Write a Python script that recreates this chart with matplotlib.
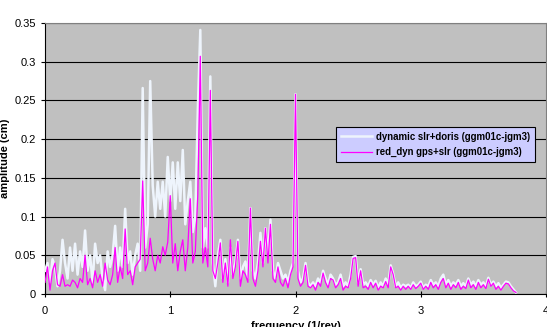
import numpy as np
import matplotlib
matplotlib.use('Agg')
import matplotlib.pyplot as plt

plt.rcParams['font.family'] = ['Liberation Sans', 'DejaVu Sans']

# amplitude spectra (cm), sampled every 0.02 cycles/rev from 0 to 3.76
dyn_slr_doris = [
    .030, .040, .015, .045, .035, .010, .030, .070, .040, .020,
    .060, .030, .065, .025, .055, .035, .082, .030, .050, .015,
    .065, .040, .050, .020, .005, .055, .035, .050, .088, .030,
    .060, .035, .110, .040, .055, .025, .050, .065, .030, .266,
    .060, .090, .275, .140, .100, .145, .110, .145, .100, .177,
    .120, .170, .110, .170, .120, .186, .090, .120, .145, .080,
    .100, .238, .341, .060, .085, .060, .281, .040, .010, .050,
    .070, .020, .045, .015, .060, .025, .040, .070, .020, .035,
    .042, .020, .111, .030, .020, .040, .079, .040, .085, .050,
    .096, .030, .020, .040, .030, .020, .025, .015, .030, .040,
    .258, .030, .015, .020, .040, .015, .010, .015, .010, .020,
    .015, .030, .020, .012, .025, .020, .012, .015, .025, .010,
    .015, .010, .025, .048, .049, .015, .032, .012, .015, .010,
    .018, .012, .017, .008, .015, .010, .020, .012, .037, .026,
    .010, .015, .008, .012, .010, .012, .008, .015, .010, .012,
    .016, .008, .012, .010, .018, .012, .015, .010, .020, .025,
    .012, .018, .010, .015, .012, .018, .010, .014, .010, .020,
    .012, .016, .010, .018, .012, .015, .010, .021, .012, .016,
    .010, .014, .008, .012, .016, .015, .010, .006, .002,
]
red_dyn_gps_slr = [
    .015, .035, .005, .030, .040, .012, .010, .025, .010, .012,
    .010, .018, .015, .008, .020, .015, .050, .012, .020, .008,
    .030, .015, .025, .010, .040, .018, .012, .025, .060, .015,
    .035, .020, .084, .025, .030, .012, .035, .040, .045, .146,
    .030, .040, .072, .045, .030, .050, .040, .061, .050, .067,
    .127, .040, .065, .030, .055, .070, .030, .060, .123, .040,
    .055, .128, .307, .040, .060, .035, .263, .030, .020, .040,
    .066, .015, .040, .010, .070, .020, .035, .068, .010, .030,
    .025, .015, .111, .020, .010, .030, .068, .035, .085, .040,
    .090, .020, .015, .035, .015, .010, .020, .008, .025, .035,
    .258, .020, .010, .015, .037, .010, .008, .012, .005, .015,
    .010, .027, .015, .008, .020, .018, .008, .012, .020, .005,
    .010, .008, .020, .046, .047, .010, .030, .008, .010, .006,
    .015, .008, .014, .005, .010, .008, .016, .008, .035, .025,
    .008, .010, .005, .010, .006, .010, .006, .012, .007, .010,
    .014, .006, .010, .006, .015, .008, .012, .006, .015, .020,
    .008, .014, .006, .012, .008, .015, .006, .010, .007, .018,
    .008, .012, .006, .015, .008, .012, .007, .019, .010, .014,
    .006, .010, .005, .010, .014, .013, .008, .004, .002,
]
freq = np.arange(len(dyn_slr_doris)) * 0.02

labels = ['dynamic slr+doris (ggm01c-jgm3)', 'red_dyn gps+slr (ggm01c-jgm3)']

fig = plt.figure(figsize=(5.47, 3.27), dpi=100)
ax = fig.add_axes([45 / 547, 1 - 294 / 327, 501 / 547, 271 / 327])
ax.set_facecolor('#C0C0C0')

ax.plot(freq, dyn_slr_doris, color='#EEF4FC', lw=1.8, label=labels[0], zorder=3)
ax.plot(freq, red_dyn_gps_slr, color='#FF00FF', lw=0.9, label=labels[1], zorder=4)

ax.set_xlim(0, 4)
ax.set_ylim(0, 0.35)
ax.set_xticks([0, 1, 2, 3, 4])
ax.set_yticks(np.arange(0, 0.351, 0.05))
ax.set_yticklabels(['0', '0.05', '0.1', '0.15', '0.2', '0.25', '0.3', '0.35'])
ax.yaxis.grid(True, color='black', lw=0.8)
ax.set_axisbelow(True)
ax.tick_params(axis='both', labelsize=8, length=3, width=0.8, color='black')
ax.tick_params(axis='x', direction='inout', length=5, pad=6)

for side in ['top', 'right']:
    ax.spines[side].set_color('#808080')
ax.spines['left'].set_color('black')
ax.spines['bottom'].set_color('black')

ax.set_ylabel('amplitude (cm)', fontsize=8, fontweight='bold', labelpad=3)
ax.set_xlabel('frequency (1/rev)', fontsize=8, fontweight='bold', labelpad=4)

leg = ax.legend(loc='upper left', bbox_to_anchor=(0.572, 0.634),
                prop={'weight': 'bold', 'size': 6.9}, frameon=True, fancybox=False,
                handlelength=3.2, borderpad=0.5, labelspacing=0.55, handletextpad=0.4)
leg.get_frame().set_facecolor('#CCCCFF')
leg.get_frame().set_edgecolor('black')
leg.get_frame().set_linewidth(0.8)
leg.get_frame().set_alpha(1)

fig.savefig('out.png', dpi=100)
